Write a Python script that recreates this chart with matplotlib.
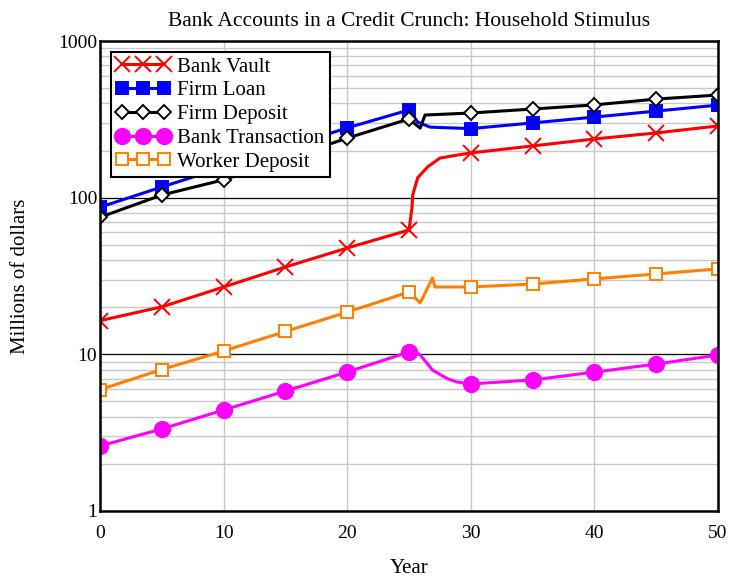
import numpy as np
import matplotlib.pyplot as plt
from matplotlib.ticker import FixedLocator, LogLocator, NullFormatter

plt.rcParams['font.family'] = ['Liberation Serif', 'DejaVu Serif']

# values (millions of dollars, log scale)
vault_x = [0, 5, 10, 15, 20, 25, 25.24, 25.3, 25.7, 26.5, 27.5, 28.9, 30, 35, 40, 45, 50]
vault_y = [16.4, 20.1, 26.9, 36.1, 47.7, 62.2, 86, 104, 134, 157, 179, 187, 193, 214, 237, 259, 287]

loan_x = [0, 5, 20, 25, 25.7, 26.7, 30, 35, 40, 45, 50]
loan_y = [87, 117, 279, 363, 304, 282, 276, 300, 327, 357, 390]

deposit_x = [0, 5, 10, 20, 25, 25.9, 26.3, 30, 35, 40, 45, 50]
deposit_y = [75, 104, 130, 240, 318, 278, 337, 347, 368, 391, 426, 452]

trans_x = [0, 5, 10, 15, 20, 25, 25.5, 25.9, 26.4, 26.9, 27.5, 28.1, 28.9, 30, 35, 40, 45, 50]
trans_y = [2.60, 3.34, 4.41, 5.83, 7.71, 10.35, 10.3, 9.9, 8.9, 7.94, 7.45, 7.0, 6.65, 6.47, 6.86, 7.7, 8.67, 9.9]

worker_x = [0, 5, 10, 15, 20, 25, 25.9, 26.9, 27.1, 30, 35, 40, 45, 50]
worker_y = [5.95, 8.0, 10.5, 14.0, 18.6, 25.0, 21.3, 30.7, 26.9, 26.9, 28.1, 30.3, 32.6, 35.1]

series = [
    ("Bank Vault", vault_x, vault_y, "#ff0000", "x", "#ff0000", 12),
    ("Firm Loan", loan_x, loan_y, "#0000ff", "s", "#0000ff", 9),
    ("Firm Deposit", deposit_x, deposit_y, "black", "D", "white", 7),
    ("Bank Transaction", trans_x, trans_y, "#ff00ff", "o", "#ff00ff", 11),
    ("Worker Deposit", worker_x, worker_y, "#ff8000", "s", "white", 8),
]

fig = plt.figure(figsize=(7.36, 5.81), dpi=100)
ax = fig.add_axes([0.1359, 0.1205, 0.8396, 0.8089])

for name, xs, ys, col, mk, face, ms in series:
    xs = np.array(xs)
    every = [i for i, v in enumerate(xs) if v % 5 == 0]
    ax.plot(xs, ys, color=col, lw=2.2, marker=mk, markersize=ms,
            markerfacecolor=face, markeredgecolor=col, markeredgewidth=1.4,
            markevery=every, label=name)

ax.set_yscale('log')
ax.set_ylim(1, 1000)
ax.set_xlim(0, 50)
ax.set_xticks([0, 10, 20, 30, 40, 50])
ax.yaxis.set_major_locator(FixedLocator([1, 10, 100, 1000]))
ax.set_yticklabels(['1', '10', '100', '1000'])
ax.yaxis.set_minor_locator(LogLocator(base=10, subs=np.arange(2, 10)))
ax.yaxis.set_minor_formatter(NullFormatter())

ax.grid(True, which='minor', axis='y', color='#c8c8c8', lw=1)
ax.grid(True, which='major', axis='y', color='black', lw=0.9)
ax.grid(True, which='major', axis='x', color='#c8c8c8', lw=1)
ax.set_axisbelow(True)
ax.tick_params(which='both', length=0, labelsize=14)
ax.tick_params(axis='x', pad=10)
ax.tick_params(axis='y', pad=2)

for sp in ax.spines.values():
    sp.set_linewidth(1.8)

ax.set_title("Bank Accounts in a Credit Crunch: Household Stimulus", fontsize=15.5, pad=11)
ax.set_xlabel("Year", fontsize=15, labelpad=12)
ax.set_ylabel("Millions of dollars", fontsize=15, labelpad=20)

leg = ax.legend(loc='upper left', bbox_to_anchor=(0.017, 0.977), fontsize=15,
                numpoints=3, handlelength=2.6, fancybox=False, framealpha=1,
                edgecolor='black', borderpad=0.25, labelspacing=0.2,
                handletextpad=0.35, borderaxespad=0)
leg.get_frame().set_linewidth(1.5)

fig.savefig("out.png", dpi=100)
